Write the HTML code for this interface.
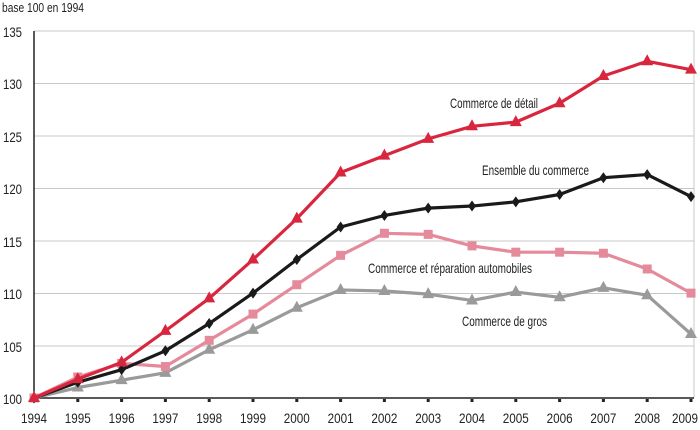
<!DOCTYPE html>
<html><head><meta charset="utf-8"><style>
html,body{margin:0;padding:0;background:#fff;}
svg text{font-family:"Liberation Sans Narrow","Liberation Sans",sans-serif;fill:#222;}
</style></head><body>
<svg width="700" height="425" viewBox="0 0 700 425" xmlns="http://www.w3.org/2000/svg">
<rect width="700" height="425" fill="#fff"/>
<text x="2" y="12" font-size="13" textLength="82" lengthAdjust="spacingAndGlyphs">base 100 en 1994</text>
<g stroke="#c8c8c8" stroke-width="1">
<line x1="34" x2="694" y1="83.5" y2="83.5"/><line x1="34" x2="694" y1="136" y2="136"/>
<line x1="34" x2="694" y1="188.5" y2="188.5"/><line x1="34" x2="694" y1="241" y2="241"/>
<line x1="34" x2="694" y1="293.5" y2="293.5"/><line x1="34" x2="694" y1="346" y2="346"/>
<line x1="694" x2="694" y1="31" y2="398"/><line x1="34" x2="694" y1="31" y2="31"/>
</g>
<line x1="34" x2="34" y1="31" y2="398" stroke="#222" stroke-width="1.5"/>
<line x1="34" x2="694" y1="398" y2="398" stroke="#222" stroke-width="1.5"/>
<g font-size="14" text-anchor="end">
<text x="22" y="37" textLength="19" lengthAdjust="spacingAndGlyphs">135</text><text x="22" y="89" textLength="19" lengthAdjust="spacingAndGlyphs">130</text><text x="22" y="142" textLength="19" lengthAdjust="spacingAndGlyphs">125</text>
<text x="22" y="194" textLength="19" lengthAdjust="spacingAndGlyphs">120</text><text x="22" y="247" textLength="19" lengthAdjust="spacingAndGlyphs">115</text><text x="22" y="299" textLength="19" lengthAdjust="spacingAndGlyphs">110</text>
<text x="22" y="352" textLength="19" lengthAdjust="spacingAndGlyphs">105</text><text x="22" y="404" textLength="19" lengthAdjust="spacingAndGlyphs">100</text>
</g>
<g id="ticks" fill="#222"></g>
<g id="xl" font-size="14" text-anchor="middle"></g>
<g id="series"></g>
<g font-size="14">
<text x="450" y="108" textLength="88" lengthAdjust="spacingAndGlyphs">Commerce de détail</text>
<text x="482" y="175" textLength="107" lengthAdjust="spacingAndGlyphs">Ensemble du commerce</text>
<text x="368" y="273" textLength="164" lengthAdjust="spacingAndGlyphs">Commerce et réparation automobiles</text>
<text x="462" y="326" textLength="85" lengthAdjust="spacingAndGlyphs">Commerce de gros</text>
</g>
</svg>
<script>
const NS="http://www.w3.org/2000/svg";
const X=i=>34+i*43.8, Y=v=>398-(v-100)*10.49;
const tk=document.getElementById('ticks'), xl=document.getElementById('xl');
for(let i=0;i<16;i++){
 if(i>0){const r=document.createElementNS(NS,'rect');r.setAttribute('x',X(i)-1.5);r.setAttribute('y',399);r.setAttribute('width',3);r.setAttribute('height',3);tk.appendChild(r);}
 const t=document.createElementNS(NS,'text');t.setAttribute('x',i==15?685:X(i));t.setAttribute('y',423);t.setAttribute('textLength',26);t.setAttribute('lengthAdjust','spacingAndGlyphs');t.textContent=1994+i;xl.appendChild(t);
}
const S=[
 {c:"#9a9a9a",m:"tri",d:[100,101,101.7,102.4,104.6,106.5,108.6,110.3,110.2,109.9,109.3,110.1,109.6,110.5,109.8,106.1]},
 {c:"#e48a9b",m:"sq",d:[100,102,103.3,103,105.5,108,110.8,113.6,115.7,115.6,114.5,113.9,113.9,113.8,112.3,110]},
 {c:"#1a1a1a",m:"dia",d:[100,101.5,102.7,104.5,107.1,110,113.2,116.3,117.4,118.1,118.3,118.7,119.4,121,121.3,119.2]},
 {c:"#d9263f",m:"tri",d:[100,101.8,103.4,106.4,109.5,113.2,117.1,121.5,123.1,124.7,125.9,126.3,128.1,130.7,132.1,131.3]}
];
const g=document.getElementById('series');
S.forEach(s=>{
 const p=document.createElementNS(NS,'polyline');
 p.setAttribute('points',s.d.map((v,i)=>X(i)+','+Y(v)).join(' '));
 p.setAttribute('fill','none');p.setAttribute('stroke',s.c);p.setAttribute('stroke-width','3.2');p.setAttribute('stroke-linejoin','round');
 g.appendChild(p);
 s.d.forEach((v,i)=>{
  const x=X(i),y=Y(v);let e=document.createElementNS(NS,'polygon');
  if(s.m=="tri")e.setAttribute('points',`${x},${y-7} ${x+6},${y+4} ${x-6},${y+4}`);
  else if(s.m=="sq")e.setAttribute('points',`${x-4.5},${y-4.5} ${x+4.5},${y-4.5} ${x+4.5},${y+4.5} ${x-4.5},${y+4.5}`);
  else e.setAttribute('points',`${x},${y-5.5} ${x+4},${y} ${x},${y+5.5} ${x-4},${y}`);
  e.setAttribute('fill',s.c);g.appendChild(e);
 });
});
</script>
</body></html>
